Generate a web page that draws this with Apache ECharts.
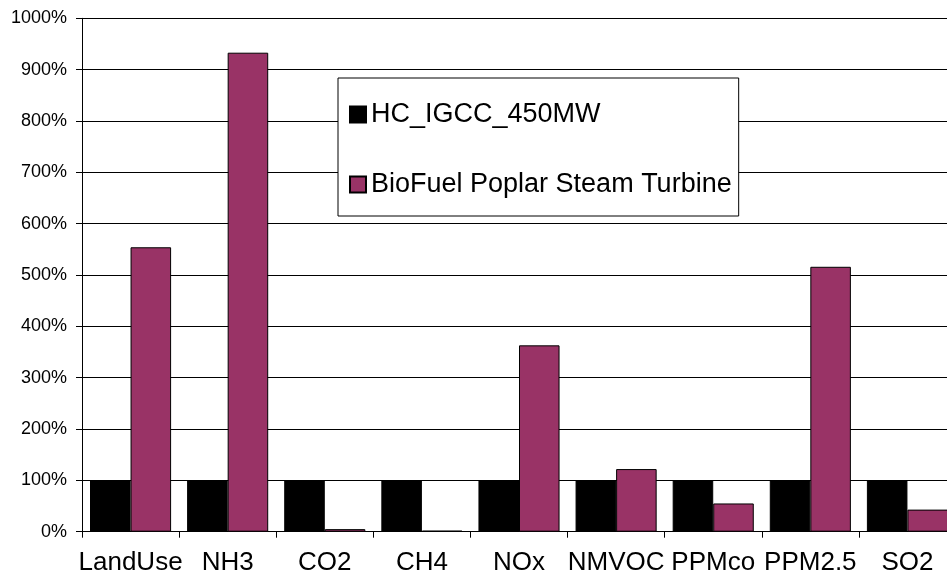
<!DOCTYPE html>
<html>
<head>
<meta charset="utf-8">
<script src="https://cdn.jsdelivr.net/npm/echarts@6/dist/echarts.min.js"></script>
<style>
  html, body { margin: 0; padding: 0; background: #fff; }
  #chart { width: 947px; height: 575px; }
</style>
</head>
<body>
<div id="chart"></div>
<script>
// Emissions relative to the HC_IGCC_450MW reference plant (percent)
const categories = ['LandUse', 'NH3', 'CO2', 'CH4', 'NOx', 'NMVOC', 'PPMco', 'PPM2.5', 'SO2'];
const igccValues = [100, 100, 100, 100, 100, 100, 100, 100, 100];
const poplarValues = [554, 933, 5, 2, 363, 122, 55, 516, 43];
const seriesNames = ['HC_IGCC_450MW', 'BioFuel Poplar Steam Turbine'];
const yTicks = { min: 0, max: 1000, interval: 100 };

const FONT = 'Liberation Sans, Arial, sans-serif';
const chart = echarts.init(document.getElementById('chart'), null, { renderer: 'canvas' });

chart.setOption({
  animation: false,
  backgroundColor: '#ffffff',
  grid: {
    left: 82, top: 18.3, width: 874, bottom: 43.3,
    containLabel: false,
    outerBoundsMode: 'none'
  },
  legend: {
    orient: 'vertical',
    left: 338,
    top: 78,
    padding: [23, 7, 18, 11],
    itemGap: 43,
    itemWidth: 16,
    itemHeight: 16,
    itemTextGap: 6,
    backgroundColor: '#ffffff',
    borderColor: '#000000',
    borderWidth: 1,
    borderRadius: 0,
    icon: 'rect',
    textStyle: { fontFamily: FONT, fontSize: 27, color: '#000', lineHeight: 27 },
    data: seriesNames
  },
  xAxis: {
    type: 'category',
    data: categories,
    axisLine: { show: true, lineStyle: { color: '#000', width: 1 } },
    axisTick: { show: true, length: 6, lineStyle: { color: '#000' } },
    axisLabel: { fontFamily: FONT, fontSize: 26, color: '#000', margin: 18, interval: 0 },
    splitLine: { show: false }
  },
  yAxis: {
    type: 'value',
    min: yTicks.min,
    max: yTicks.max,
    interval: yTicks.interval,
    axisLine: { show: true, lineStyle: { color: '#000', width: 1 } },
    axisTick: { show: true, length: 6, lineStyle: { color: '#000' } },
    axisLabel: {
      fontFamily: FONT, fontSize: 18, color: '#000', margin: 15,
      formatter: (v) => String(v) + '%'
    },
    splitLine: { show: true, lineStyle: { color: '#000', width: 1 } }
  },
  series: [
    {
      name: seriesNames[0],
      type: 'bar',
      data: igccValues,
      barGap: '0%',
      barCategoryGap: '16.5%',
      itemStyle: { color: '#000000', borderColor: '#000000', borderWidth: 1 }
    },
    {
      name: seriesNames[1],
      type: 'bar',
      data: poplarValues,
      itemStyle: { color: '#993366', borderColor: '#000000', borderWidth: 1 }
    }
  ]
});
</script>
</body>
</html>
